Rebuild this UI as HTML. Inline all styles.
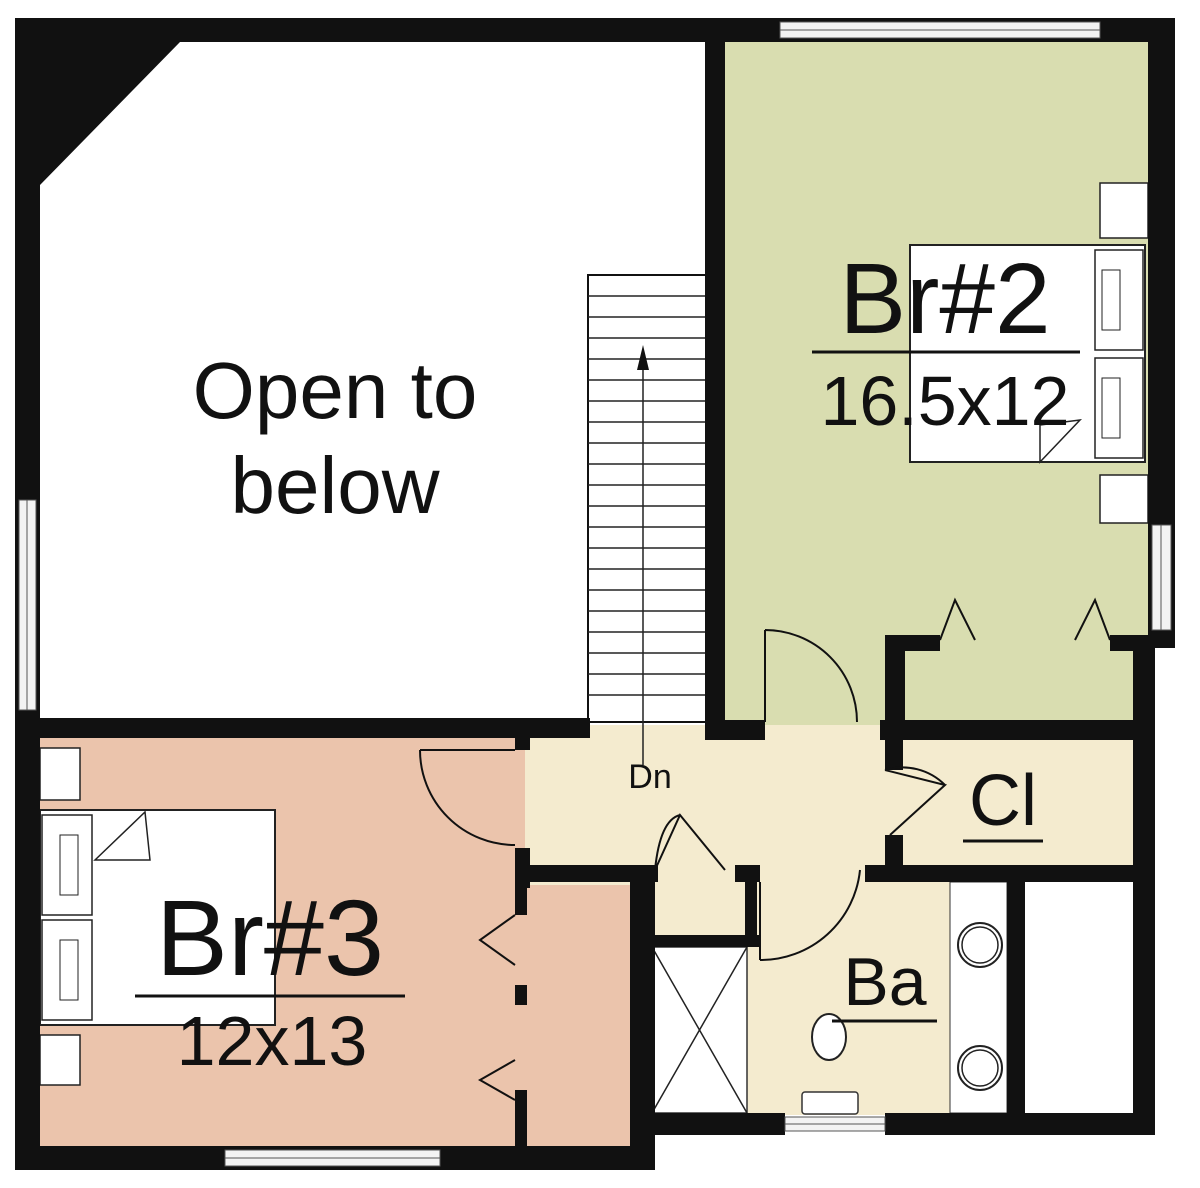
<!DOCTYPE html>
<html><head><style>body{margin:0;background:#fff}svg{display:block}</style></head><body>
<svg width="1200" height="1188" viewBox="0 0 1200 1188" xmlns="http://www.w3.org/2000/svg" font-family="Liberation Sans, sans-serif">
<rect width="1200" height="1188" fill="#fff"/>
<!-- room fills -->
<rect x="722" y="40" width="430" height="685" fill="#d9ddb0"/>
<rect x="40" y="735" width="485" height="415" fill="#ebc4ac"/>
<rect x="520" y="875" width="120" height="275" fill="#ebc4ac"/>
<rect x="525" y="725" width="610" height="160" fill="#f4ebcf"/>
<rect x="650" y="870" width="300" height="245" fill="#f4ebcf"/>
<rect x="900" y="645" width="237" height="80" fill="#d9ddb0"/>
<!-- shower -->
<rect x="652" y="947" width="95" height="166" fill="#fff" stroke="#333" stroke-width="1.5"/>
<line x1="652" y1="947" x2="747" y2="1113" stroke="#222" stroke-width="1.5"/>
<line x1="747" y1="947" x2="652" y2="1113" stroke="#222" stroke-width="1.5"/>
<!-- vanity & closet -->
<rect x="950" y="882" width="57" height="231" fill="#fff" stroke="#333"/>
<circle cx="980" cy="945" r="22" fill="#fff" stroke="#222" stroke-width="2"/>
<circle cx="980" cy="945" r="18" fill="none" stroke="#222" stroke-width="1.5"/>
<circle cx="980" cy="1068" r="22" fill="#fff" stroke="#222" stroke-width="2"/>
<circle cx="980" cy="1068" r="18" fill="none" stroke="#222" stroke-width="1.5"/>
<rect x="1025" y="882" width="108" height="231" fill="#fff"/>
<!-- toilet -->
<ellipse cx="829" cy="1037" rx="17" ry="23" fill="#fff" stroke="#222" stroke-width="2"/>
<rect x="802" y="1092" width="56" height="22" rx="3" fill="#fff" stroke="#333" stroke-width="1.5"/>
<!-- stairs -->
<rect x="588" y="275" width="120" height="447" fill="#fff" stroke="#111" stroke-width="2"/>
<g stroke="#222" stroke-width="1.5">
<line x1="588" y1="296" x2="708" y2="296"/><line x1="588" y1="317" x2="708" y2="317"/><line x1="588" y1="338" x2="708" y2="338"/><line x1="588" y1="359" x2="708" y2="359"/><line x1="588" y1="380" x2="708" y2="380"/><line x1="588" y1="401" x2="708" y2="401"/><line x1="588" y1="422" x2="708" y2="422"/><line x1="588" y1="443" x2="708" y2="443"/><line x1="588" y1="464" x2="708" y2="464"/><line x1="588" y1="485" x2="708" y2="485"/><line x1="588" y1="506" x2="708" y2="506"/><line x1="588" y1="527" x2="708" y2="527"/><line x1="588" y1="548" x2="708" y2="548"/><line x1="588" y1="569" x2="708" y2="569"/><line x1="588" y1="590" x2="708" y2="590"/><line x1="588" y1="611" x2="708" y2="611"/><line x1="588" y1="632" x2="708" y2="632"/><line x1="588" y1="653" x2="708" y2="653"/><line x1="588" y1="674" x2="708" y2="674"/><line x1="588" y1="695" x2="708" y2="695"/>
<line x1="643" y1="360" x2="643" y2="765"/>
</g>
<polygon points="643,345 637,370 649,370" fill="#111"/>
<!-- beds -->
<rect x="910" y="245" width="235" height="217" fill="#fff" stroke="#222" stroke-width="2"/>
<rect x="1095" y="250" width="48" height="100" fill="#fff" stroke="#222" stroke-width="1.5"/>
<rect x="1095" y="358" width="48" height="100" fill="#fff" stroke="#222" stroke-width="1.5"/>
<rect x="1102" y="270" width="18" height="60" fill="none" stroke="#222"/>
<rect x="1102" y="378" width="18" height="60" fill="none" stroke="#222"/>
<polygon points="1040,462 1040,425 1080,420" fill="#fff" stroke="#222" stroke-width="1.5"/>
<rect x="40" y="810" width="235" height="215" fill="#fff" stroke="#222" stroke-width="2"/>
<rect x="42" y="815" width="50" height="100" fill="#fff" stroke="#222" stroke-width="1.5"/>
<rect x="42" y="920" width="50" height="100" fill="#fff" stroke="#222" stroke-width="1.5"/>
<rect x="60" y="835" width="18" height="60" fill="none" stroke="#222"/>
<rect x="60" y="940" width="18" height="60" fill="none" stroke="#222"/>
<polygon points="95,860 145,812 150,860" fill="#fff" stroke="#222" stroke-width="1.5"/>
<!-- nightstands -->
<rect x="1100" y="183" width="48" height="55" fill="#fff" stroke="#222" stroke-width="1.5"/>
<rect x="1100" y="475" width="48" height="48" fill="#fff" stroke="#222" stroke-width="1.5"/>
<rect x="40" y="748" width="40" height="52" fill="#fff" stroke="#222" stroke-width="1.5"/>
<rect x="40" y="1035" width="40" height="50" fill="#fff" stroke="#222" stroke-width="1.5"/>
<!-- walls -->
<g fill="#111">
<rect x="15" y="18" width="1160" height="24"/>
<rect x="15" y="18" width="25" height="1152"/>
<rect x="1148" y="18" width="27" height="630"/>
<rect x="1133" y="635" width="22" height="500"/>
<rect x="15" y="1146" width="640" height="24"/>
<rect x="630" y="870" width="25" height="300"/>
<rect x="640" y="1113" width="145" height="22"/>
<rect x="885" y="1113" width="270" height="22"/>
<rect x="705" y="18" width="20" height="712"/>
<rect x="15" y="718" width="575" height="20"/>
<rect x="705" y="720" width="60" height="20"/>
<rect x="880" y="720" width="275" height="20"/>
<rect x="885" y="640" width="20" height="100"/>
<rect x="885" y="635" width="55" height="16"/>
<rect x="1110" y="635" width="45" height="16"/>
<rect x="885" y="740" width="18" height="30"/>
<rect x="885" y="835" width="18" height="35"/>
<rect x="865" y="865" width="290" height="17"/>
<rect x="515" y="735" width="15" height="15"/>
<rect x="515" y="848" width="15" height="40"/>
<rect x="515" y="865" width="125" height="17"/>
<rect x="640" y="865" width="18" height="17"/>
<rect x="515" y="880" width="12" height="35"/>
<rect x="515" y="985" width="12" height="20"/>
<rect x="515" y="1090" width="12" height="56"/>
<rect x="640" y="865" width="15" height="82"/>
<rect x="640" y="935" width="120" height="12"/>
<rect x="735" y="865" width="25" height="17"/>
<rect x="745" y="870" width="12" height="77"/>
<rect x="1007" y="882" width="18" height="231"/>
<polygon points="40,42 180,42 40,185"/>
</g>
<!-- windows -->
<g fill="#f3f3f3" stroke="#555" stroke-width="1">
<rect x="780" y="22" width="320" height="16"/>
<line x1="780" y1="30" x2="1100" y2="30"/>
<rect x="19" y="500" width="17" height="210"/>
<line x1="27" y1="500" x2="27" y2="710"/>
<rect x="1152" y="525" width="19" height="105"/>
<line x1="1161" y1="525" x2="1161" y2="630"/>
<rect x="225" y="1150" width="215" height="16"/>
<line x1="225" y1="1158" x2="440" y2="1158"/>
<rect x="785" y="1117" width="100" height="14"/>
<line x1="785" y1="1124" x2="885" y2="1124"/>
</g>
<!-- doors -->
<g fill="none" stroke="#111" stroke-width="2">
<path d="M765 630 L765 722 M765 630 A92 92 0 0 1 857 722"/>
<path d="M420 750 L515 750 M420 750 A95 95 0 0 0 515 845"/>
<path d="M885 770 L945 785 L890 835 M885 770 A60 60 0 0 1 945 785"/>
<path d="M760 960 L760 882 M760 960 A100 100 0 0 0 860 870"/>
<path d="M655 870 L680 815 L725 870 M655 870 Q660 820 680 815"/>
<path d="M940 640 L955 600 L975 640"/>
<path d="M1075 640 L1095 600 L1110 640"/>
<path d="M515 915 L480 940 L515 965"/>
<path d="M515 1060 L480 1080 L515 1100"/>
</g>
<!-- labels -->
<g fill="#111" text-anchor="middle">
<text x="335" y="418" font-size="80">Open to</text>
<text x="335" y="513" font-size="80">below</text>
<text x="945" y="333" font-size="100">Br#2</text>
<line x1="812" y1="352" x2="1080" y2="352" stroke="#111" stroke-width="3"/>
<text x="945" y="425" font-size="70">16.5x12</text>
<text x="270" y="975" font-size="108">Br#3</text>
<line x1="135" y1="996" x2="405" y2="996" stroke="#111" stroke-width="3"/>
<text x="272" y="1065" font-size="70">12x13</text>
<text x="1003" y="825" font-size="72">Cl</text>
<line x1="963" y1="841" x2="1043" y2="841" stroke="#111" stroke-width="3"/>
<text x="885" y="1005" font-size="68">Ba</text>
<line x1="832" y1="1021" x2="937" y2="1021" stroke="#111" stroke-width="3"/>
<text x="650" y="788" font-size="34">Dn</text>
</g>
</svg>
</body></html>
